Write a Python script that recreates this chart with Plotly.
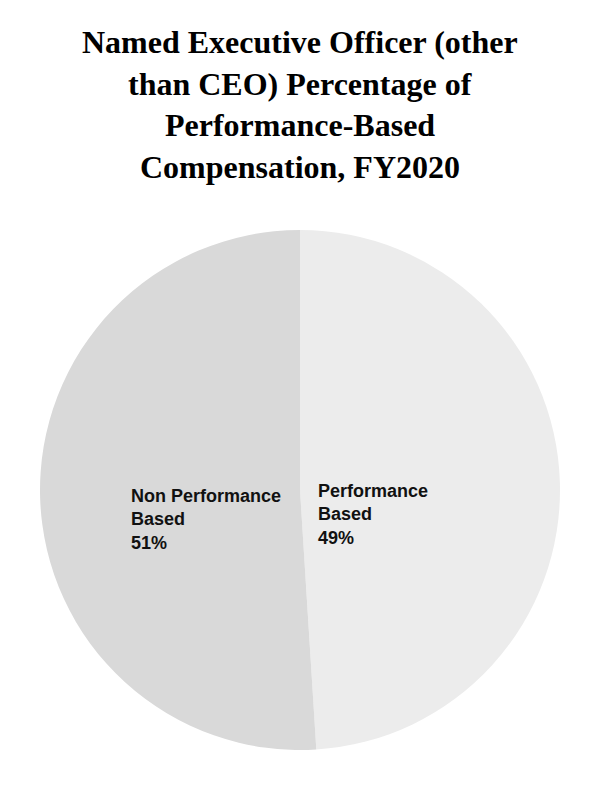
import plotly.graph_objects as go

title_lines = [
    "Named Executive Officer (other",
    "than CEO) Percentage of",
    "Performance-Based",
    "Compensation, FY2020",
]
labels = ["Performance Based", "Non Performance Based"]
label_lines = [["Performance", "Based"], ["Non Performance", "Based"]]
values = [49, 51]
colors = ["#ececec", "#d9d9d9"]

W, H = 600, 800

fig = go.Figure()
fig.add_trace(go.Pie(
    labels=labels,
    values=values,
    sort=False,
    direction="clockwise",
    rotation=0,
    marker=dict(colors=colors, line=dict(width=0)),
    textinfo="none",
    hoverinfo="label+percent",
    showlegend=False,
    domain=dict(x=[40 / W, 560 / W], y=[1 - 750 / H, 1 - 230 / H]),
))

annotations = []
title_y = [42.5, 84, 125.5, 167.5]
for line, yp in zip(title_lines, title_y):
    annotations.append(dict(
        text="<b>" + line + "</b>", x=0.5, xref="paper", xanchor="center",
        y=1 - yp / H, yref="paper", yanchor="middle", showarrow=False,
        font=dict(family="Liberation Serif, Times New Roman, serif", size=32, color="#000000"),
    ))

total = sum(values)
label_pos = [(316, 514), (129, 519)]
for lines, v, (px, py) in zip(label_lines, values, label_pos):
    txt = "<br>".join("<b>" + l + "</b>" for l in lines) + "<br><b>%d%%</b>" % round(100 * v / total)
    annotations.append(dict(
        text=txt, x=px / W, xref="paper", xanchor="left", align="left",
        y=1 - py / H, yref="paper", yanchor="middle", showarrow=False,
        font=dict(family="Liberation Sans, Arial, sans-serif", size=18, color="#111111"),
    ))

fig.update_layout(
    width=W, height=H,
    margin=dict(l=0, r=0, t=0, b=0),
    paper_bgcolor="#ffffff",
    plot_bgcolor="#ffffff",
    annotations=annotations,
)

fig.write_html("out.html")
